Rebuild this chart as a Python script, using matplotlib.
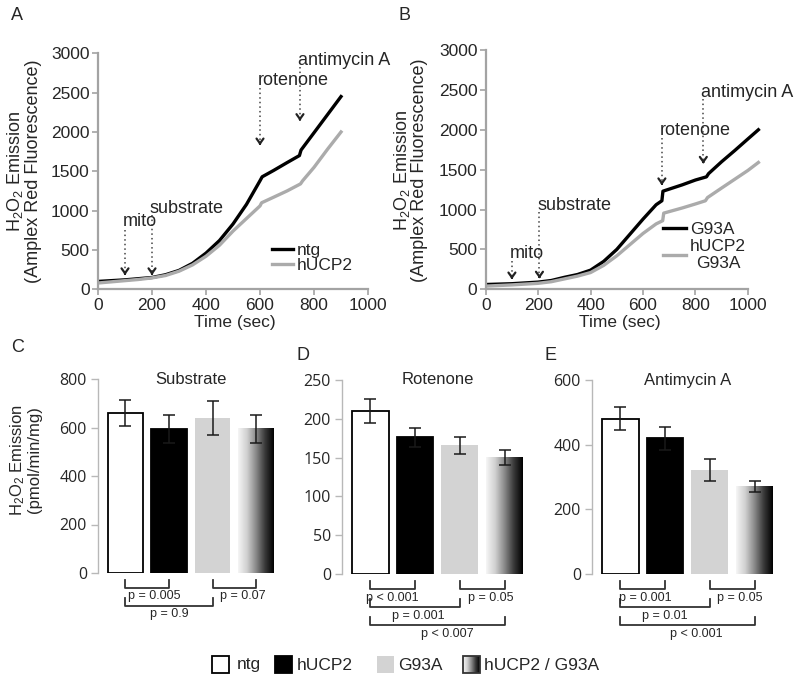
import numpy as np
import matplotlib
matplotlib.use('Agg')
import matplotlib.pyplot as plt
from matplotlib.colors import LinearSegmentedColormap
from matplotlib.patches import Rectangle
import matplotlib.transforms as mtransforms

plt.rcParams['font.family'] = ['Liberation Sans', 'DejaVu Sans']
plt.rcParams['mathtext.fontset'] = 'custom'
plt.rcParams['mathtext.rm'] = 'Liberation Sans'
plt.rcParams['mathtext.it'] = 'Liberation Sans:italic'

# ---------------- DATA ----------------
# Panel A : time courses
time_a_ntg = [0, 50, 100, 150, 200, 250, 300, 350, 400, 450, 500, 550, 600, 608, 650, 700, 746, 752, 800, 850, 900]
h2o2_a_ntg = [100, 110, 120, 135, 150, 185, 240, 330, 460, 620, 830, 1080, 1380, 1430, 1510, 1610, 1700, 1770, 1990, 2220, 2450]
time_a_hucp2 = [0, 50, 100, 150, 200, 250, 300, 350, 400, 450, 500, 550, 600, 606, 650, 700, 750, 758, 800, 850, 900]
h2o2_a_hucp2 = [80, 95, 110, 125, 145, 175, 230, 310, 420, 560, 740, 900, 1060, 1100, 1170, 1250, 1340, 1380, 1550, 1780, 2000]

# Panel B : time courses
time_b_g93a = [0, 100, 200, 250, 300, 350, 400, 450, 500, 550, 600, 650, 672, 676, 750, 800, 842, 850, 900, 950, 1000, 1040]
h2o2_b_g93a = [60, 70, 90, 110, 150, 185, 240, 350, 500, 690, 880, 1060, 1110, 1230, 1310, 1370, 1410, 1450, 1600, 1740, 1885, 2000]
time_b_hucp2g93a = [0, 100, 200, 250, 300, 350, 400, 450, 500, 550, 600, 650, 675, 679, 750, 800, 838, 846, 900, 950, 1000, 1040]
h2o2_b_hucp2g93a = [40, 55, 75, 95, 130, 165, 210, 300, 420, 560, 700, 820, 860, 955, 1020, 1070, 1110, 1150, 1270, 1380, 1490, 1590]

# Injection annotations (label, time)
events_a = [('mito', 100), ('substrate', 200), ('rotenone', 600), ('antimycin A', 748)]
events_b = [('mito', 100), ('substrate', 205), ('rotenone', 672), ('antimycin A', 830)]

# Panels C-E : bar data
groups = ['ntg', 'hUCP2', 'G93A', 'hUCP2 / G93A']
sub_mean = [660, 595, 640, 595]
sub_err = [55, 58, 70, 57]
rot_mean = [210, 176, 166, 150]
rot_err = [15, 12, 11, 10]
ant_mean = [480, 420, 322, 272]
ant_err = [35, 35, 33, 17]

sub_p = [(0, 1, 'p = 0.005'), (2, 3, 'p = 0.07'), (0, 2, 'p = 0.9')]
rot_p = [(0, 1, 'p < 0.001'), (2, 3, 'p = 0.05'), (0, 2, 'p = 0.001'), (0, 3, 'p < 0.007')]
ant_p = [(0, 1, 'p = 0.001'), (2, 3, 'p = 0.05'), (0, 2, 'p = 0.01'), (0, 3, 'p < 0.001')]

# ---------------- FIGURE ----------------
W, H = 795, 680
fig = plt.figure(figsize=(W / 100, H / 100), dpi=100)
TXT = '#262626'
SPINE = '#a3a3a3'
GRAY_LINE = '#ababab'


def px_ax(l, t, r, b):
    return fig.add_axes([l / W, 1 - b / H, (r - l) / W, (b - t) / H])


def style_line_axes(ax):
    for s in ['top', 'right']:
        ax.spines[s].set_visible(False)
    for s in ['left', 'bottom']:
        ax.spines[s].set_color(SPINE)
        ax.spines[s].set_linewidth(1.6)
    ax.tick_params(axis='both', colors=SPINE, length=4, width=1.2, labelsize=12.5,
                   labelcolor=TXT, pad=2)


def annotate_events(ax, events, text_y, tip_y, top_y):
    for (lab, t), ty, tp, tt in zip(events, text_y, tip_y, top_y):
        ax.plot([t, t], [tt, tp + 40], ls=(0, (1, 2)), color='#444444', lw=1.1)
        ax.annotate('', xy=(t, tp), xytext=(t, tp + 60),
                    arrowprops=dict(arrowstyle='->,head_length=0.35,head_width=0.25',
                                    color='#222222', lw=1.6))
        ax.text(t - 8, ty, lab, fontsize=13, color=TXT, ha='left', va='baseline')


# Panel A
axA = px_ax(98, 53.3, 368, 289.3)
axA.plot(time_a_ntg, h2o2_a_ntg, color='black', lw=2.4, label='ntg')
axA.plot(time_a_hucp2, h2o2_a_hucp2, color=GRAY_LINE, lw=2.4, label='hUCP2')
axA.set_xlim(0, 1000)
axA.set_ylim(0, 3000)
axA.set_xticks(range(0, 1001, 200))
axA.set_yticks(range(0, 3001, 500))
style_line_axes(axA)
annotate_events(axA, events_a, text_y=[800, 965, 2595, 2850], tip_y=[180, 180, 1830, 2140],
                top_y=[760, 950, 2560, 2820])
legA = axA.legend(loc='lower left', bbox_to_anchor=(0.645, 0.07), frameon=False, fontsize=12.5,
                  handlelength=1.2, handletextpad=0.2, labelspacing=0.0, borderpad=0, borderaxespad=0)
for t in legA.get_texts():
    t.set_color(TXT)

# Panel B
axB = px_ax(485.7, 50, 761, 289.3)
axB.plot(time_b_g93a, h2o2_b_g93a, color='black', lw=2.4, label='G93A')
axB.plot(time_b_hucp2g93a, h2o2_b_hucp2g93a, color=GRAY_LINE, lw=2.4, label='hUCP2\nG93A')
axB.set_xlim(0, 1050)
axB.set_ylim(0, 3000)
axB.set_xticks(range(0, 1001, 200))
axB.set_yticks(range(0, 3001, 500))
style_line_axes(axB)
axB.spines['bottom'].set_bounds(0, 1000)
annotate_events(axB, events_b, text_y=[390, 995, 1935, 2415], tip_y=[125, 135, 1305, 1575],
                top_y=[360, 970, 1900, 2380])
legB = axB.legend(loc='lower left', bbox_to_anchor=(0.644, 0.075), frameon=False, fontsize=12.5,
                  handlelength=1.3, handletextpad=0.25, labelspacing=0.1, borderpad=0, borderaxespad=0)
for t in legB.get_texts():
    t.set_color(TXT)
    t.set_multialignment('center')

# Line panel labels
fig.text(24 / W, 1 - 171 / H, 'H$_2$O$_2$ Emission\n(Amplex Red Fluorescence)', rotation=90,
         ha='center', va='center', fontsize=13, color=TXT, linespacing=1.0)
fig.text(410 / W, 1 - 170 / H, 'H$_2$O$_2$ Emission\n(Amplex Red Fluorescence)', rotation=90,
         ha='center', va='center', fontsize=13, color=TXT, linespacing=1.0)
fig.text(235 / W, 1 - 322 / H, 'Time (sec)', ha='center', va='center', fontsize=12.5, color=TXT)
fig.text(620 / W, 1 - 323 / H, 'Time (sec)', ha='center', va='center', fontsize=12.5, color=TXT)

# ---------------- BAR PANELS ----------------
grad_cmap = LinearSegmentedColormap.from_list('g', ['#f6f6f6', '#d0d0d0', '#8a8a8a', '#3a3a3a', '#000000'])
bar_colors = ['white', 'black', '#d3d3d3', 'none']
AX_H = 194.0


def bar_panel(ax, means, errs, pvals, yticks, title, txt_offsets):
    x = np.arange(len(groups))
    bars = ax.bar(x, means, width=0.82, color=bar_colors, edgecolor=['black', 'black', 'none', 'none'],
                  linewidth=1.3, zorder=2)
    b = bars[3]
    grad = np.linspace(0, 1, 256).reshape(1, -1)
    ax.imshow(grad, cmap=grad_cmap, aspect='auto', interpolation='bilinear',
              extent=[b.get_x(), b.get_x() + b.get_width(), 0, b.get_height()], zorder=2)
    ax.errorbar(x, means, yerr=errs, fmt='none', ecolor='#1a1a1a', elinewidth=1.1,
                capsize=4, capthick=1.1, zorder=3)
    ax.set_xlim(-0.63, 3.5)
    ax.set_ylim(0, yticks[-1])
    ax.set_yticks(yticks)
    ax.set_xticks([])
    for s in ['top', 'right', 'bottom']:
        ax.spines[s].set_visible(False)
    ax.spines['left'].set_color('#b8b8b8')
    ax.spines['left'].set_linewidth(1.0)
    ax.tick_params(axis='y', colors='#b8b8b8', length=5, width=1.0, labelsize=11.5,
                   labelcolor=TXT, pad=3)
    for lab in ax.get_yticklabels():
        lab.set_fontfamily(['Open Sans', 'DejaVu Sans'])
    ax.text(0.5 * (x[0] + x[-1]), yticks[-1], title, ha='center', va='center', fontsize=12, color=TXT)
    tr = mtransforms.blended_transform_factory(ax.transData, ax.transAxes)
    levels = {(0, 1): 0, (2, 3): 0, (0, 2): 1, (0, 3): 2}
    for (i, j, lab), off in zip(pvals, txt_offsets):
        lv = levels[(i, j)]
        yb = -(15 + 18 * lv) / AX_H
        yt = -(7 + 18 * lv) / AX_H
        ax.plot([x[i], x[i], x[j], x[j]], [yt, yb, yb, yt], transform=tr, clip_on=False,
                color='#333333', lw=1.3)
        ax.text(0.5 * (x[i] + x[j]) + off, yb - 8.5 / AX_H, lab, transform=tr, ha='center',
                va='center', fontsize=9, color=TXT)


axC = px_ax(98, 379, 278, 573)
bar_panel(axC, sub_mean, sub_err, sub_p, [0, 200, 400, 600, 800], 'Substrate', [0.15, 0.2, 0.0])
axD = px_ax(342, 380, 527, 574)
bar_panel(axD, rot_mean, rot_err, rot_p, [0, 50, 100, 150, 200, 250], 'Rotenone', [0.0, 0.2, 0.08, 0.22])
axE = px_ax(592, 380, 777, 574)
bar_panel(axE, ant_mean, ant_err, ant_p, [0, 200, 400, 600], 'Antimycin A', [0.05, 0.17, 0.0, 0.2])

fig.text(25 / W, 1 - 460 / H, 'H$_2$O$_2$ Emission\n(pmol/min/mg)', rotation=90,
         ha='center', va='center', fontsize=12, color=TXT, linespacing=1.0)

# Panel letters
for lab, px, py in [('A', 17, 15), ('B', 405, 15), ('C', 18, 347), ('D', 303, 355), ('E', 551, 355)]:
    fig.text(px / W, 1 - py / H, lab, ha='center', va='center', fontsize=13, color=TXT)

# ---------------- BOTTOM LEGEND ----------------
lax = fig.add_axes([0, 0, 1, 1], zorder=-1)
lax.set_xlim(0, W)
lax.set_ylim(H, 0)
lax.axis('off')
sq = 17
leg_items = [(212, 'white', 'black', 237), (275, 'black', 'black', 297),
             (377, '#d3d3d3', 'none', 398), (463, None, '#333333', 484)]
for (lx, fc, ec, tx), name in zip(leg_items, groups):
    if fc is None:
        lax.imshow(np.linspace(0, 1, 64).reshape(1, -1), cmap=grad_cmap, aspect='auto',
                   extent=[lx, lx + sq, 673, 656], interpolation='bilinear')
        lax.add_patch(Rectangle((lx, 656), sq, sq, facecolor='none', edgecolor=ec, lw=1.3))
    else:
        lax.add_patch(Rectangle((lx, 656), sq, sq, facecolor=fc,
                                edgecolor=ec if ec != 'none' else 'none', lw=1.3))
    lax.text(tx, 665, name, ha='left', va='center', fontsize=12.5, color=TXT)
lax.set_xlim(0, W)
lax.set_ylim(H, 0)

fig.savefig('out.png', dpi=100)
